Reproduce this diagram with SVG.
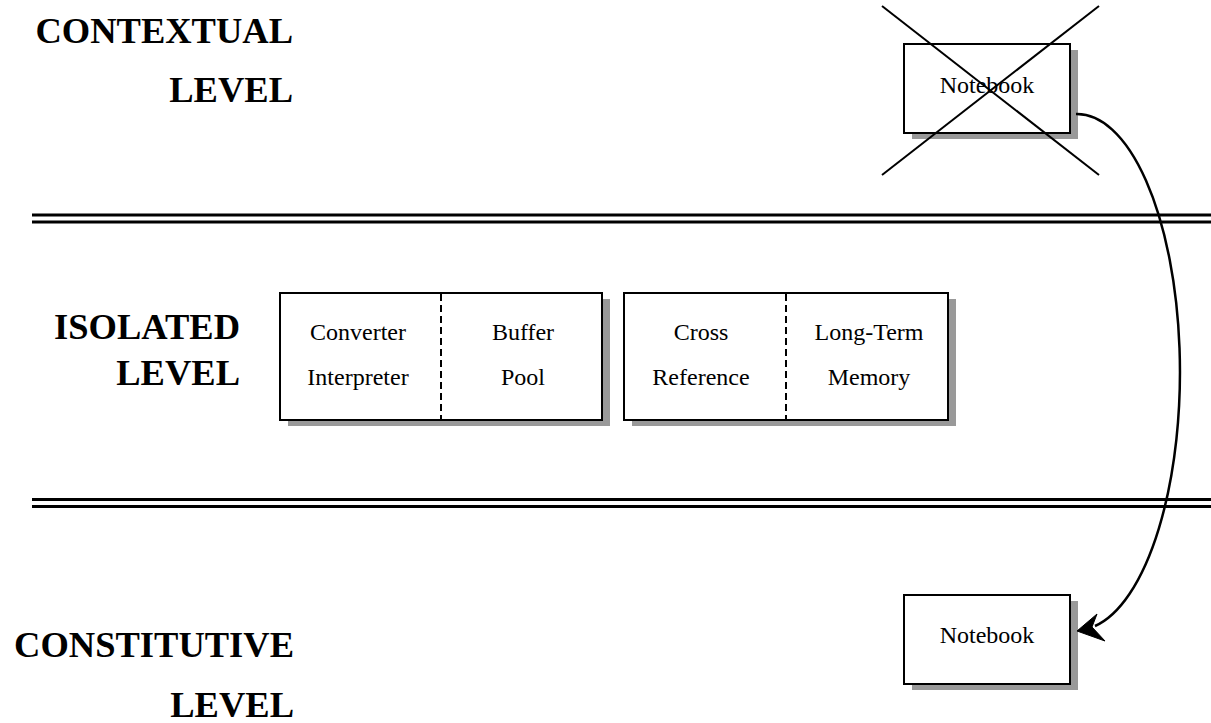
<svg xmlns="http://www.w3.org/2000/svg" width="1211" height="723" viewBox="0 0 1211 723">
<style>
.lbl{font-family:"Liberation Serif","Times New Roman",serif;font-weight:bold;font-size:36.5px;fill:#000;text-anchor:end}
.txt{font-family:"Liberation Serif","Times New Roman",serif;font-size:24px;fill:#000;text-anchor:middle}
.box{fill:#fff;stroke:#000;stroke-width:2}
.shadow{fill:#999;stroke:none}
.sep{stroke:#000;stroke-width:3;fill:none}
.dash{stroke:#000;stroke-width:2;stroke-dasharray:7,4;fill:none}
.cross{stroke:#000;stroke-width:2;fill:none}
.conn{stroke:#000;stroke-width:2.5;fill:none}
</style>
<rect width="1211" height="723" fill="#fff"/>
<g id="level-labels">
<text class="lbl" x="293" y="43">CONTEXTUAL</text>
<text class="lbl" x="293" y="102">LEVEL</text>
<text class="lbl" x="240" y="339">ISOLATED</text>
<text class="lbl" x="240" y="385">LEVEL</text>
<text class="lbl" x="294" y="657">CONSTITUTIVE</text>
<text class="lbl" x="294" y="717">LEVEL</text>
</g>
<g id="separators">
<line class="sep" x1="32" y1="215" x2="1211" y2="215"/>
<line class="sep" x1="32" y1="222" x2="1211" y2="222"/>
<line class="sep" x1="32" y1="499.5" x2="1211" y2="499.5"/>
<line class="sep" x1="32" y1="506.5" x2="1211" y2="506.5"/>
</g>
<g id="notebook-top">
<rect class="shadow" x="912" y="50" width="166" height="89"/>
<rect class="box" x="904" y="44" width="166" height="89"/>
<text class="txt" x="987" y="93">Notebook</text>
<line class="cross" x1="882" y1="6" x2="1099" y2="175"/>
<line class="cross" x1="1099" y1="6" x2="882" y2="175"/>
</g>
<g id="box-converter-buffer">
<rect class="shadow" x="288" y="299" width="322" height="127"/>
<rect class="box" x="280" y="293" width="322" height="127"/>
<line class="dash" x1="441" y1="294" x2="441" y2="419"/>
<text class="txt" x="358" y="340">Converter</text>
<text class="txt" x="358" y="385">Interpreter</text>
<text class="txt" x="523" y="340">Buffer</text>
<text class="txt" x="523" y="385">Pool</text>
</g>
<g id="box-cross-memory">
<rect class="shadow" x="632" y="299" width="324" height="127"/>
<rect class="box" x="624" y="293" width="324" height="127"/>
<line class="dash" x1="786" y1="294" x2="786" y2="419"/>
<text class="txt" x="701" y="340">Cross</text>
<text class="txt" x="701" y="385">Reference</text>
<text class="txt" x="869" y="340">Long-Term</text>
<text class="txt" x="869" y="385">Memory</text>
</g>
<g id="notebook-bottom">
<rect class="shadow" x="912" y="601" width="166" height="89"/>
<rect class="box" x="904" y="595" width="166" height="89"/>
<text class="txt" x="987" y="643">Notebook</text>
</g>
<g id="connectors">
<path class="conn" d="M1076,114 A103,258 0 0 1 1095,626"/>
<polygon points="1077,631 1097,614 1092,627 1105,641" fill="#000" stroke="#000" stroke-width="1" stroke-linejoin="miter"/>
</g>
</svg>
